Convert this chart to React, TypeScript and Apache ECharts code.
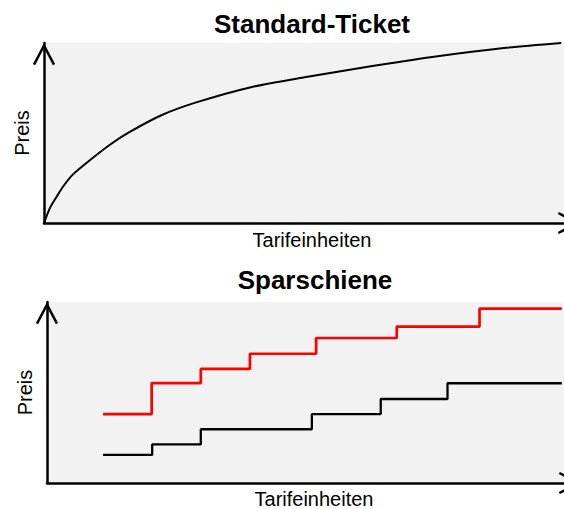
import React, { useEffect, useRef } from "react";
import * as echarts from "echarts";

// Standard-Ticket: price curve (Tarifeinheiten 0..100, Preis 0..100)
const standardTarif = [0, 1.1, 2.4, 3.5, 5.4, 8.6, 12.3, 16.0, 22.0, 28.4, 38.8, 48.9, 59.0, 72.4, 85.8, 96.5];
const standardPreis = [0, 8.3, 14.8, 20, 27, 35, 43.5, 50.6, 60, 67, 75.6, 81.1, 86.1, 92.2, 97.2, 100];

// Sparschiene: step lines
const redTarif = [10.5, 19.6, 28.8, 38.0, 50.4, 65.5, 81.0, 96.4];
const redPreis = [38.1, 55.2, 63.0, 71.4, 80.1, 86.4, 96.3, 96.3];
const blackTarif = [10.5, 19.7, 28.8, 49.6, 62.5, 75.0, 96.4];
const blackPreis = [15.5, 21.3, 29.7, 38.1, 46.4, 55.1, 55.1];

const titles = ["Standard-Ticket", "Sparschiene"];
const xName = "Tarifeinheiten";
const yName = "Preis";

const FONT = "Liberation Sans, Arial, Helvetica, sans-serif";
const ARROW = "path://M-1.1,18.4 L10,-2.69 L21.1,18.4 L18.9,19.58 L10,2.69 L1.1,19.58 Z";

function pairs(xs: number[], ys: number[]) {
  return xs.map((x, i) => [x, ys[i]]);
}

function axisLine() {
  return {
    show: true,
    onZero: false,
    lineStyle: { color: "#000", width: 2.5 },
    symbol: ["none", ARROW],
    symbolSize: [22.2, 22.27],
    symbolOffset: [0, -11.1],
  };
}

export default function App() {
  const ref = useRef<HTMLDivElement>(null);
  useEffect(() => {
    if (!ref.current) return;
    const chart = echarts.init(ref.current, undefined, { renderer: "svg" });
    const makeX = (gridIndex: number, gap: number) => ({
      type: "value",
      gridIndex,
      min: 0,
      max: 100,
      name: xName,
      nameLocation: "middle",
      nameGap: gap,
      nameTextStyle: { fontFamily: FONT, fontSize: 20, color: "#000" },
      axisLine: axisLine(),
      axisTick: { show: false },
      axisLabel: { show: false },
      splitLine: { show: false },
    });
    const makeY = (gridIndex: number) => ({
      type: "value",
      gridIndex,
      min: 0,
      max: 100,
      name: yName,
      nameLocation: "middle",
      nameRotate: 90,
      nameGap: 12,
      nameTextStyle: { fontFamily: FONT, fontSize: 20, color: "#000" },
      axisLine: axisLine(),
      axisTick: { show: false },
      axisLabel: { show: false },
      splitLine: { show: false },
    });
    chart.setOption({
      animation: false,
      backgroundColor: "#fff",
      title: [
        {
          text: titles[0],
          left: 312,
          top: 11,
          textAlign: "center",
          padding: 0,
          textStyle: { fontFamily: FONT, fontSize: 26, fontWeight: "bold", color: "#000" },
        },
        {
          text: titles[1],
          left: 315,
          top: 267,
          textAlign: "center",
          padding: 0,
          textStyle: { fontFamily: FONT, fontSize: 26, fontWeight: "bold", color: "#000" },
        },
      ],
      grid: [
        { left: 44, top: 43, width: 536, height: 180, show: true, backgroundColor: "#f2f2f2", borderWidth: 0, outerBoundsMode: "none", containLabel: false },
        { left: 47, top: 302, width: 534, height: 181, show: true, backgroundColor: "#f2f2f2", borderWidth: 0, outerBoundsMode: "none", containLabel: false },
      ],
      xAxis: [makeX(0, 7), makeX(1, 6)],
      yAxis: [makeY(0), makeY(1)],
      series: [
        {
          type: "line",
          xAxisIndex: 0,
          yAxisIndex: 0,
          data: pairs(standardTarif, standardPreis),
          showSymbol: false,
          smooth: 0.25,
          lineStyle: { color: "#000", width: 2 },
          z: 3,
        },
        {
          type: "line",
          xAxisIndex: 1,
          yAxisIndex: 1,
          step: "end",
          data: pairs(redTarif, redPreis),
          showSymbol: false,
          lineStyle: { color: "#ff0000", width: 2.7 },
        },
        {
          type: "line",
          xAxisIndex: 1,
          yAxisIndex: 1,
          step: "end",
          data: pairs(blackTarif, blackPreis),
          showSymbol: false,
          lineStyle: { color: "#000", width: 2.3 },
        },
      ],
    });
    return () => chart.dispose();
  }, []);
  return (
    <div
      ref={ref}
      style={{ position: "absolute", left: 0, top: 0, width: 564, height: 509 }}
    />
  );
}
